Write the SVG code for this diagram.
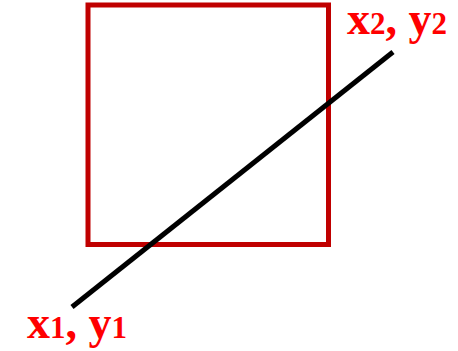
<svg xmlns="http://www.w3.org/2000/svg" width="458" height="351" viewBox="0 0 458 351">
<style>
.lbl{font-family:"Liberation Serif","Times New Roman",serif;font-weight:bold;fill:#ff0000;font-size:46px}
.sub{font-size:31px}
</style>
<rect x="0" y="0" width="458" height="351" fill="#ffffff"/>
<g id="square">
<rect x="88" y="5" width="240.5" height="239.5" fill="none" stroke="#c00000" stroke-width="5"/>
</g>
<g id="connectors">
<line x1="72" y1="307" x2="393" y2="52" stroke="#000000" stroke-width="5"/>
</g>
<g id="label-p2">
<text class="lbl" x="347" y="33.5">x<tspan class="sub">2</tspan>, y<tspan class="sub">2</tspan></text>
</g>
<g id="label-p1">
<text class="lbl" x="27" y="338">x<tspan class="sub">1</tspan>, y<tspan class="sub">1</tspan></text>
</g>
</svg>
